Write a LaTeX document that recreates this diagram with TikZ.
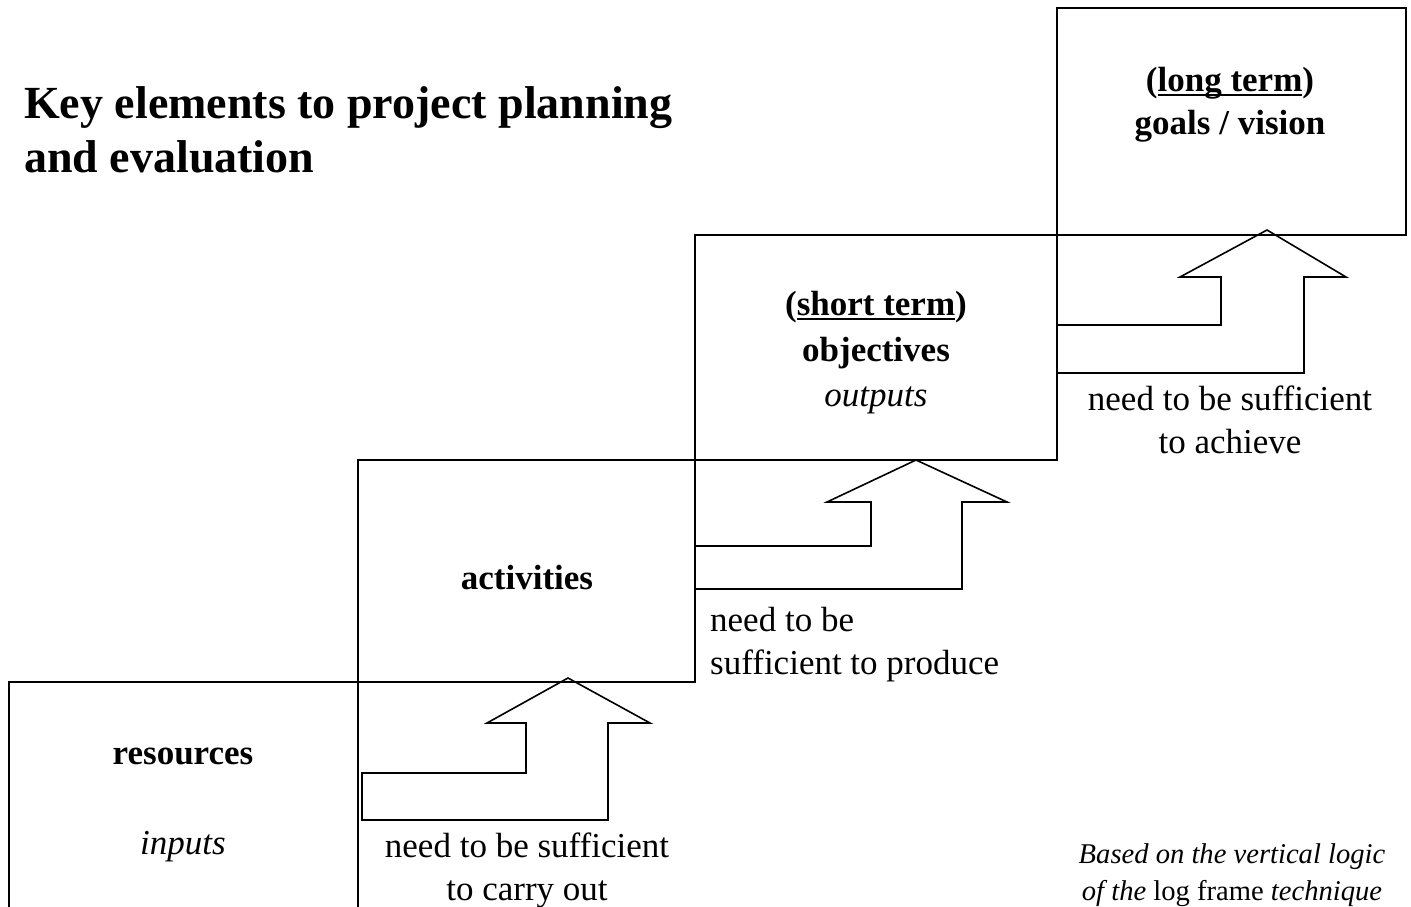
\documentclass[tikz,border=0pt]{standalone}
\usepackage{fontspec}
\setmainfont{Liberation Serif}
\newcommand\myul[1]{\setbox0\hbox{#1}\rlap{\rule[-0.12em]{\wd0}{0.06em}}\box0}
\begin{document}
\begin{tikzpicture}[x=1pt,y=-1pt,
  stepbox/.style={draw, line width=2pt, rectangle, inner sep=0pt},
  bigarrow/.style={draw, line width=1.6pt, line join=miter},
  bodytext/.style={inner sep=0pt, font=\fontsize{35}{43}\selectfont},
  titletext/.style={inner sep=0pt, font=\fontsize{46}{54}\selectfont\bfseries},
  notetext/.style={inner sep=0pt, font=\fontsize{28.6}{37}\selectfont\itshape}]
\useasboundingbox (0,0) rectangle (1411,906);
\clip (0,0) rectangle (1411,906);
% boxes
\node[stepbox, minimum width=349pt, minimum height=238pt] (res) at (183.5,801) {};
\node[stepbox, minimum width=337pt, minimum height=222pt] (act) at (526.5,571) {};
\node[stepbox, minimum width=362pt, minimum height=225pt] (obj) at (876,347.5) {};
\node[stepbox, minimum width=349pt, minimum height=227pt] (goal) at (1231.5,121.5) {};
% arrows
\draw[bigarrow] (568,678) -- (650,723) -- (608,723) -- (608,820) -- (362,820) -- (362,773) -- (526,773) -- (526,723) -- (487,723) -- cycle;
\draw[bigarrow] (916,460) -- (1007,502) -- (962,502) -- (962,589) -- (695,589) -- (695,546) -- (871,546) -- (871,502) -- (827,502) -- cycle;
\draw[bigarrow] (1267,230) -- (1346,277) -- (1304,277) -- (1304,373) -- (1057,373) -- (1057,325) -- (1221,325) -- (1221,277) -- (1180,277) -- cycle;
% texts
\node[titletext, align=left, anchor=west] (title) at (24,130) {Key elements to project planning\\and evaluation};
\node[bodytext, align=center] (goaltxt) at (1230,105) {\textbf{(\myul{long term})}\\\textbf{goals / vision}};
\node[bodytext, align=center, font=\fontsize{35}{45.5}\selectfont] (objtxt) at (876,353) {\textbf{(\myul{short term})}\\\textbf{objectives}\\\textit{outputs}};
\node[bodytext] (acttxt) at (527,578) {\textbf{activities}};
\node[bodytext] (restxt) at (183,756) {\textbf{resources}};
\node[bodytext] (inptxt) at (183,847) {\textit{inputs}};
\node[bodytext, align=center] (lab1) at (527,870) {need to be sufficient\\to carry out};
\node[bodytext, align=left, anchor=west] (lab2) at (710,645) {need to be\\sufficient to produce};
\node[bodytext, align=center] (lab3) at (1230,420) {need to be sufficient\\to achieve};
\node[notetext, align=center] (note) at (1232,875) {Based on the vertical logic\\of the \textup{log frame} technique};
\end{tikzpicture}
\end{document}
